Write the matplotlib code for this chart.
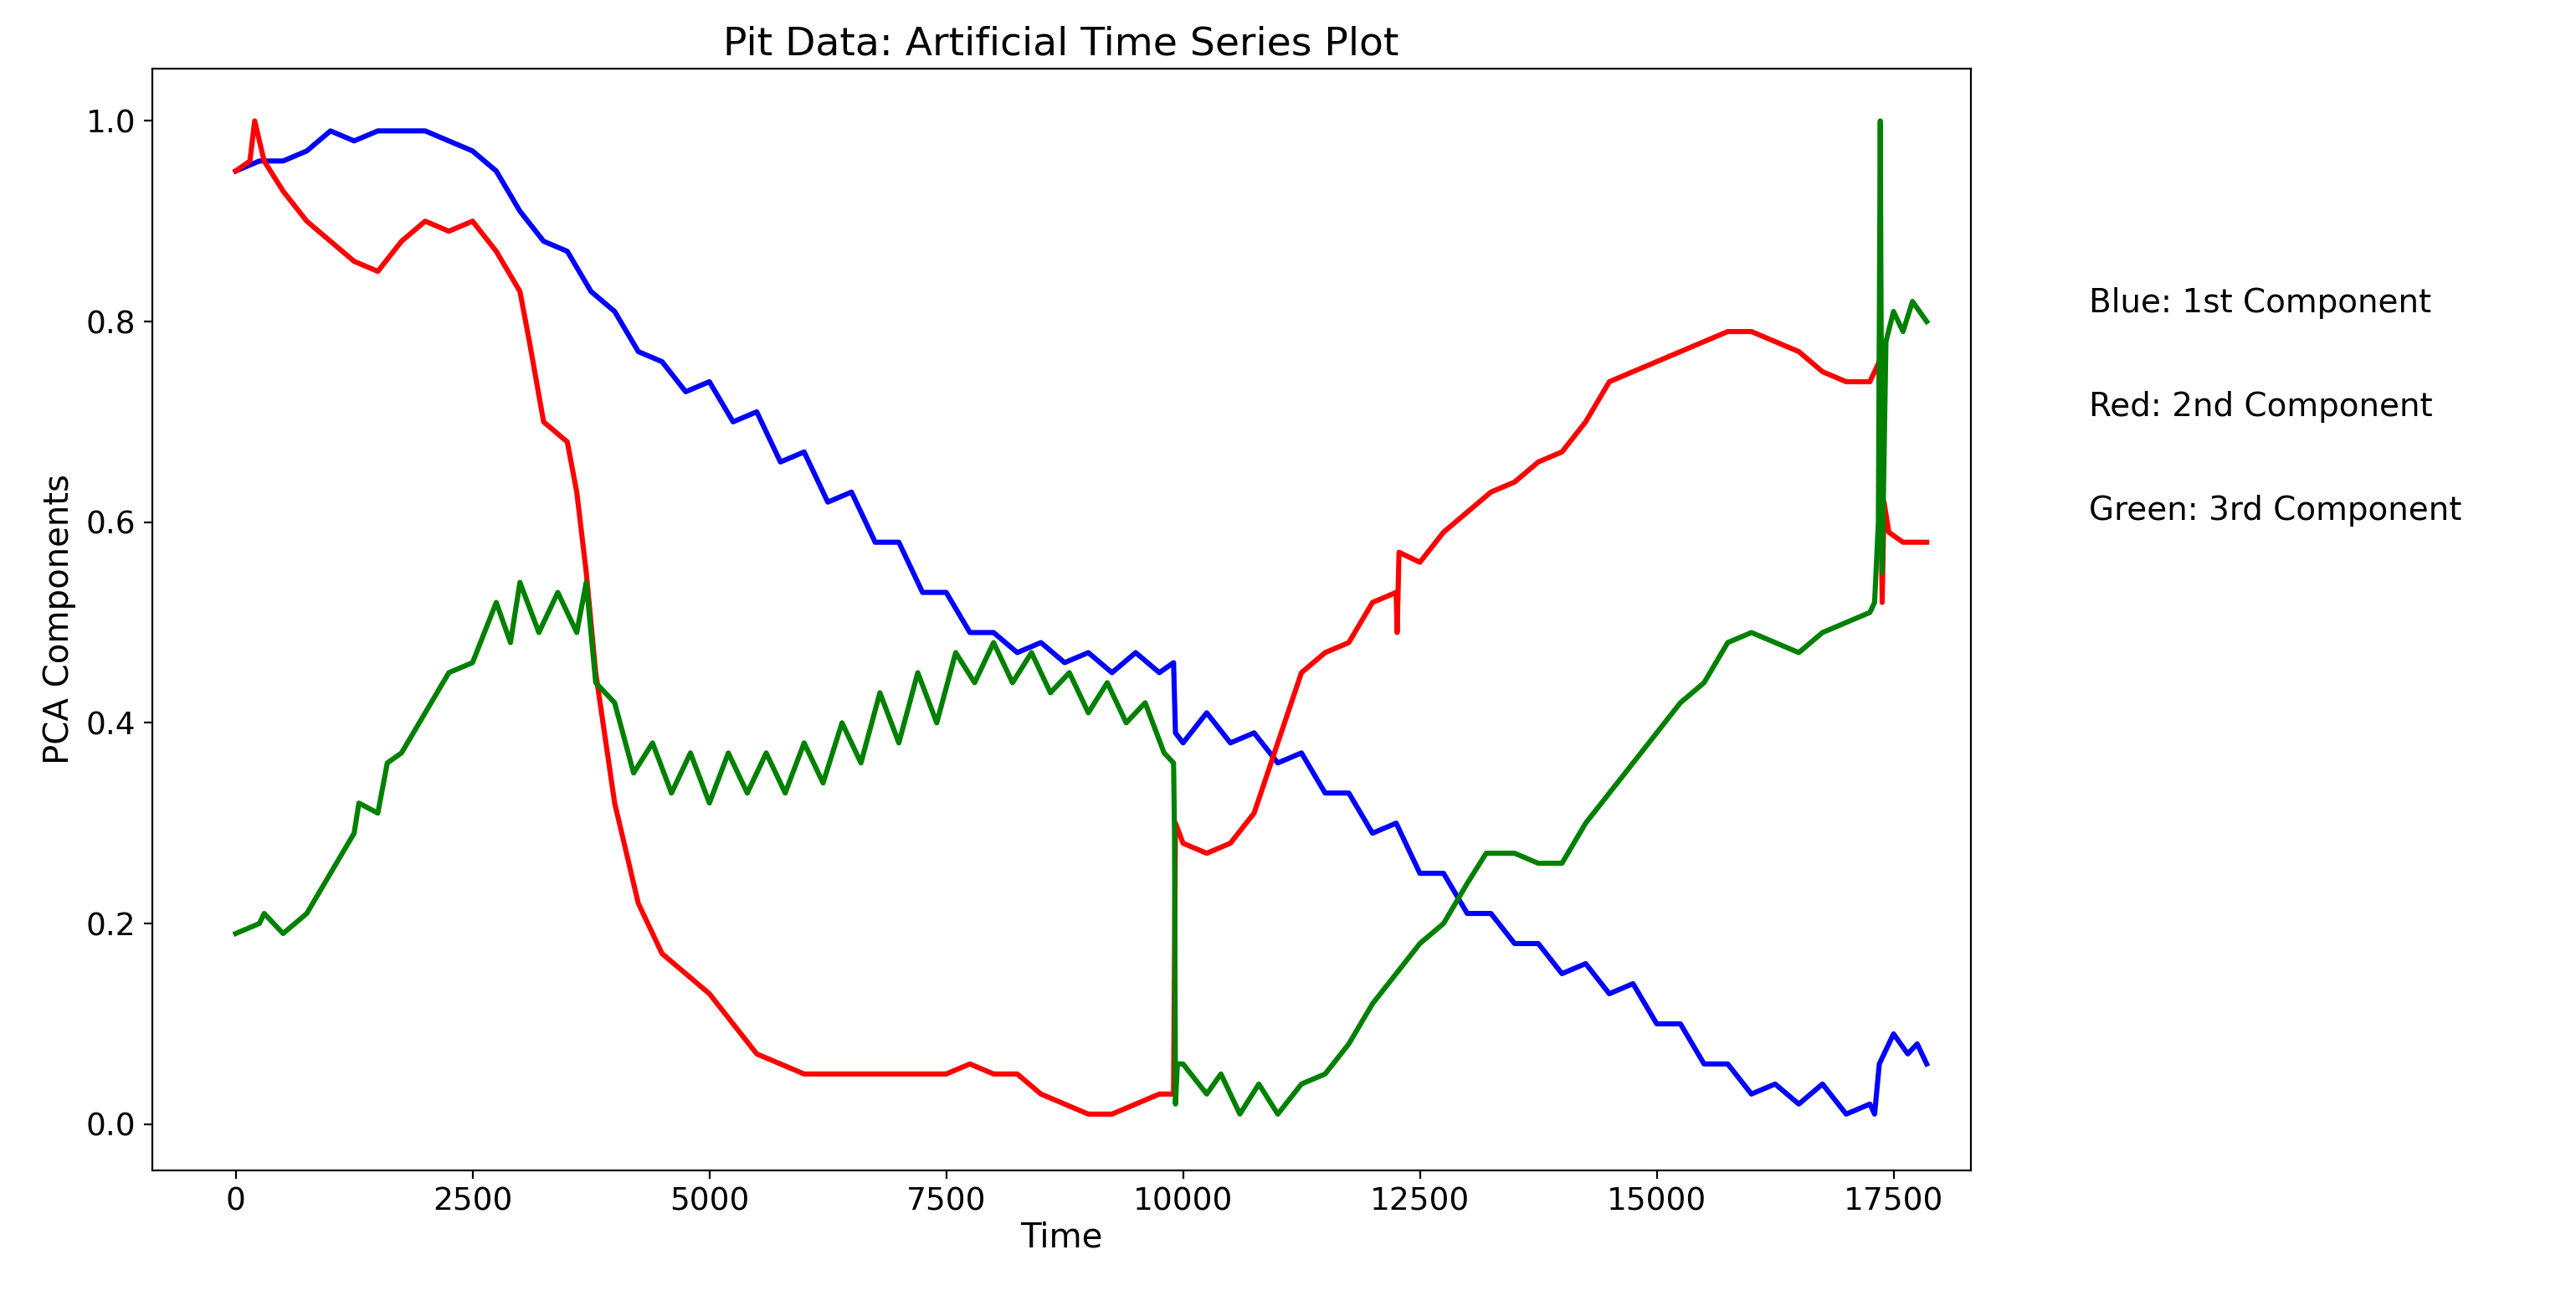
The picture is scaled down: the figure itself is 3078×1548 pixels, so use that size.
import matplotlib
matplotlib.use("Agg")
import matplotlib.pyplot as plt

# ===== values =====
blue_t = [0, 250, 500, 750, 1000, 1250, 1500, 1750, 2000, 2250, 2500, 2750, 3000, 3250, 3500, 3750,
          4000, 4250, 4500, 4750, 5000, 5250, 5500, 5750, 6000, 6250, 6500, 6750, 7000, 7250, 7500,
          7750, 8000, 8250, 8500, 8750, 9000, 9250, 9500, 9750, 9900, 9920, 10000, 10250, 10500,
          10750, 11000, 11250, 11500, 11750, 12000, 12250, 12500, 12750, 13000, 13250, 13500, 13750,
          14000, 14250, 14500, 14750, 15000, 15250, 15500, 15750, 16000, 16250, 16500, 16750, 17000,
          17250, 17300, 17350, 17500, 17650, 17750, 17850]
blue_v = [0.95, 0.96, 0.96, 0.97, 0.99, 0.98, 0.99, 0.99, 0.99, 0.98, 0.97, 0.95, 0.91, 0.88, 0.87, 0.83,
          0.81, 0.77, 0.76, 0.73, 0.74, 0.70, 0.71, 0.66, 0.67, 0.62, 0.63, 0.58, 0.58, 0.53, 0.53,
          0.49, 0.49, 0.47, 0.48, 0.46, 0.47, 0.45, 0.47, 0.45, 0.46, 0.39, 0.38, 0.41, 0.38,
          0.39, 0.36, 0.37, 0.33, 0.33, 0.29, 0.30, 0.25, 0.25, 0.21, 0.21, 0.18, 0.18,
          0.15, 0.16, 0.13, 0.14, 0.10, 0.10, 0.06, 0.06, 0.03, 0.04, 0.02, 0.04, 0.01,
          0.02, 0.01, 0.06, 0.09, 0.07, 0.08, 0.06]

red_t = [0, 150, 200, 300, 500, 750, 1000, 1250, 1500, 1750, 2000, 2250, 2500, 2750, 3000, 3100, 3250,
         3500, 3600, 3700, 3800, 4000, 4250, 4500, 4750, 5000, 5250, 5500, 5750, 6000, 6250, 6500,
         6750, 7000, 7250, 7500, 7750, 8000, 8250, 8500, 8750, 9000, 9250, 9500, 9750, 9900, 9920,
         10000, 10250, 10500, 10750, 11000, 11250, 11500, 11750, 12000, 12250, 12260, 12280, 12500,
         12750, 13000, 13250, 13500, 13750, 14000, 14250, 14500, 14750, 15000, 15250, 15500, 15750,
         16000, 16250, 16500, 16750, 17000, 17250, 17350, 17380, 17400, 17450, 17600, 17850]
red_v = [0.95, 0.96, 1.00, 0.96, 0.93, 0.90, 0.88, 0.86, 0.85, 0.88, 0.90, 0.89, 0.90, 0.87, 0.83, 0.78, 0.70,
         0.68, 0.63, 0.55, 0.45, 0.32, 0.22, 0.17, 0.15, 0.13, 0.10, 0.07, 0.06, 0.05, 0.05, 0.05,
         0.05, 0.05, 0.05, 0.05, 0.06, 0.05, 0.05, 0.03, 0.02, 0.01, 0.01, 0.02, 0.03, 0.03, 0.30,
         0.28, 0.27, 0.28, 0.31, 0.38, 0.45, 0.47, 0.48, 0.52, 0.53, 0.49, 0.57, 0.56,
         0.59, 0.61, 0.63, 0.64, 0.66, 0.67, 0.70, 0.74, 0.75, 0.76, 0.77, 0.78, 0.79,
         0.79, 0.78, 0.77, 0.75, 0.74, 0.74, 0.76, 0.52, 0.62, 0.59, 0.58, 0.58]

green_t = [0, 250, 300, 500, 750, 1000, 1250, 1300, 1500, 1600, 1750, 2000, 2250, 2500, 2750, 2900, 3000,
           3200, 3400, 3600, 3700, 3800, 4000, 4200, 4400, 4600, 4800, 5000, 5200, 5400, 5600, 5800,
           6000, 6200, 6400, 6600, 6800, 7000, 7200, 7400, 7600, 7800, 8000, 8200, 8400, 8600, 8800,
           9000, 9200, 9400, 9600, 9800, 9900, 9910, 9920, 9940, 10000, 10250, 10400, 10600, 10800,
           11000, 11250, 11500, 11750, 12000, 12250, 12500, 12750, 13000, 13200, 13500, 13750, 14000,
           14250, 14500, 14750, 15000, 15250, 15500, 15750, 16000, 16250, 16500, 16750, 17000, 17250,
           17300, 17340, 17360, 17380, 17420, 17500, 17600, 17700, 17850]
green_v = [0.19, 0.20, 0.21, 0.19, 0.21, 0.25, 0.29, 0.32, 0.31, 0.36, 0.37, 0.41, 0.45, 0.46, 0.52, 0.48, 0.54,
           0.49, 0.53, 0.49, 0.54, 0.44, 0.42, 0.35, 0.38, 0.33, 0.37, 0.32, 0.37, 0.33, 0.37, 0.33,
           0.38, 0.34, 0.40, 0.36, 0.43, 0.38, 0.45, 0.40, 0.47, 0.44, 0.48, 0.44, 0.47, 0.43, 0.45,
           0.41, 0.44, 0.40, 0.42, 0.37, 0.36, 0.29, 0.02, 0.06, 0.06, 0.03, 0.05, 0.01, 0.04,
           0.01, 0.04, 0.05, 0.08, 0.12, 0.15, 0.18, 0.20, 0.24, 0.27, 0.27, 0.26, 0.26,
           0.30, 0.33, 0.36, 0.39, 0.42, 0.44, 0.48, 0.49, 0.48, 0.47, 0.49, 0.50, 0.51,
           0.52, 0.60, 1.00, 0.55, 0.78, 0.81, 0.79, 0.82, 0.80]

notes = ["Blue: 1st Component", "Red: 2nd Component", "Green: 3rd Component"]

# ===== figure =====
fig = plt.figure(figsize=(15.39, 7.74), dpi=200)
ax = fig.add_axes([0.059, 0.097, 0.706, 0.85])

ax.plot(blue_t, blue_v, color="blue", lw=2.2)
ax.plot(red_t, red_v, color="red", lw=2.2)
ax.plot(green_t, green_v, color="green", lw=2.2)

ax.set_xlim(-884, 18314)
ax.set_ylim(-0.046, 1.052)
ax.set_xticks([0, 2500, 5000, 7500, 10000, 12500, 15000, 17500])
ax.set_yticks([0.0, 0.2, 0.4, 0.6, 0.8, 1.0])
ax.tick_params(labelsize=13.5)
ax.set_xlabel("Time", fontsize=14.5, labelpad=2)
ax.set_ylabel("PCA Components", fontsize=14.5)
ax.set_title("Pit Data: Artificial Time Series Plot", fontsize=17)

for i, s in enumerate(notes):
    fig.text(0.811, 0.766 - i * 0.08, s, fontsize=14, va="center")

fig.savefig("out.png")
